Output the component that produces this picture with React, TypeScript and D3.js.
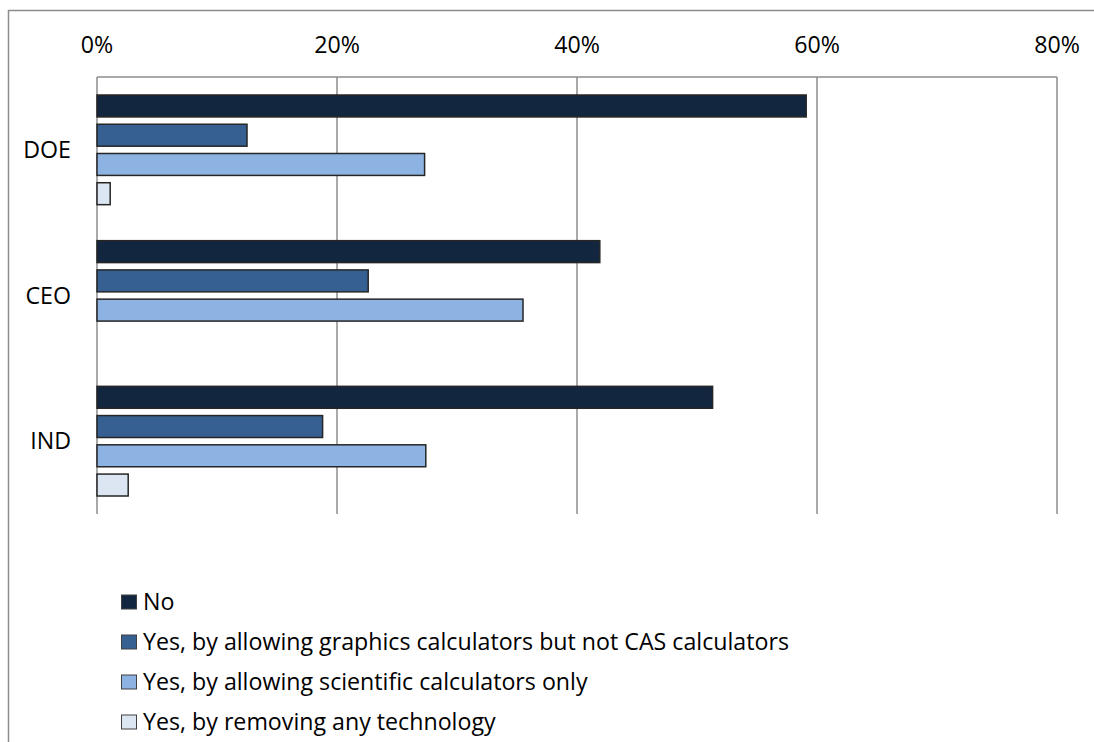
import { useEffect, useRef } from 'react';
import * as d3 from 'd3';

const categories = ['DOE', 'CEO', 'IND'];
const seriesNames = [
  'No',
  'Yes, by allowing graphics calculators but not CAS calculators',
  'Yes, by allowing scientific calculators only',
  'Yes, by removing any technology',
];
const noValues = [59.1, 41.9, 51.3];
const graphicsValues = [12.5, 22.6, 18.8];
const scientificValues = [27.3, 35.5, 27.4];
const removeValues = [1.1, 0, 2.6];
const tickValues = [0, 20, 40, 60, 80];
const colors = ['#13263f', '#366092', '#8db3e2', '#dce6f2'];

export default function App() {
  const ref = useRef<SVGSVGElement>(null);

  useEffect(() => {
    if (!ref.current) return;
    const width = 1094;
    const height = 742;
    const margin = { top: 77, right: 37, bottom: 228, left: 97 };
    const font = "'Open Sans', sans-serif";
    const fontSize = 23.2;

    const svg = d3.select(ref.current);
    svg.selectAll('*').remove();
    svg.attr('width', width).attr('height', height);

    svg.append('rect')
      .attr('width', width).attr('height', height).attr('fill', '#fff');

    // outer chart border
    svg.append('rect')
      .attr('x', 8.5).attr('y', 10.5)
      .attr('width', width + 20).attr('height', height + 20)
      .attr('fill', 'none')
      .attr('stroke', '#8c8c8c')
      .attr('stroke-width', 1.5);

    const x = d3.scaleLinear()
      .domain([0, 80])
      .range([margin.left, width - margin.right]);

    const y0 = d3.scaleBand()
      .domain(categories)
      .range([margin.top, height - margin.bottom])
      .padding(0);

    const inset = 18;
    const y1 = d3.scaleBand()
      .domain(seriesNames)
      .range([inset, y0.bandwidth() - inset])
      .paddingInner(0.25)
      .paddingOuter(0);

    // gridlines
    svg.append('g')
      .selectAll('line')
      .data(tickValues)
      .enter().append('line')
      .attr('x1', d => x(d)).attr('x2', d => x(d))
      .attr('y1', margin.top).attr('y2', height - margin.bottom)
      .attr('stroke', '#8c8c8c')
      .attr('stroke-width', 1.5);

    // top axis line
    svg.append('line')
      .attr('x1', margin.left).attr('x2', width - margin.right)
      .attr('y1', margin.top).attr('y2', margin.top)
      .attr('stroke', '#8c8c8c')
      .attr('stroke-width', 1.5);

    // tick labels
    svg.append('g')
      .selectAll('text')
      .data(tickValues)
      .enter().append('text')
      .attr('x', d => x(d))
      .attr('y', 45)
      .attr('dy', '0.35em')
      .attr('text-anchor', 'middle')
      .attr('font-family', font)
      .attr('font-size', fontSize)
      .attr('fill', '#000')
      .text(d => `${d}%`);

    // category labels
    svg.append('g')
      .selectAll('text')
      .data(categories)
      .enter().append('text')
      .attr('x', 71)
      .attr('y', d => y0(d)! + y0.bandwidth() / 2)
      .attr('dy', '0.35em')
      .attr('text-anchor', 'end')
      .attr('font-family', font)
      .attr('font-size', fontSize)
      .attr('fill', '#000')
      .text(d => d);

    const allSeries = [noValues, graphicsValues, scientificValues, removeValues];

    const groups = svg.append('g')
      .selectAll('g')
      .data(categories)
      .enter().append('g')
      .attr('transform', d => `translate(0,${y0(d)})`);

    groups.selectAll('rect')
      .data((_, ci) => seriesNames.map((name, si) => ({
        name,
        value: allSeries[si][ci],
        color: colors[si],
      })).filter(d => d.value > 0))
      .enter().append('rect')
      .attr('x', x(0))
      .attr('y', d => y1(d.name)!)
      .attr('width', d => x(d.value) - x(0))
      .attr('height', y1.bandwidth())
      .attr('fill', d => d.color)
      .attr('stroke', '#262626')
      .attr('stroke-width', 1.5);

    // legend
    const legend = svg.append('g')
      .selectAll('g')
      .data(seriesNames)
      .enter().append('g')
      .attr('transform', (_, i) => `translate(121,${602 + i * 40})`);

    legend.append('rect')
      .attr('x', 0.5).attr('y', -7)
      .attr('width', 15).attr('height', 14)
      .attr('fill', (_, i) => colors[i])
      .attr('stroke', '#404040')
      .attr('stroke-width', 1);

    legend.append('text')
      .attr('x', 22)
      .attr('y', 0)
      .attr('dy', '0.35em')
      .attr('font-family', font)
      .attr('font-size', fontSize)
      .attr('fill', '#000')
      .text(d => d);
  }, []);

  return (
    <div style={{ position: 'absolute', left: 0, top: 0 }}>
      <svg ref={ref} style={{ display: 'block' }} />
    </div>
  );
}
